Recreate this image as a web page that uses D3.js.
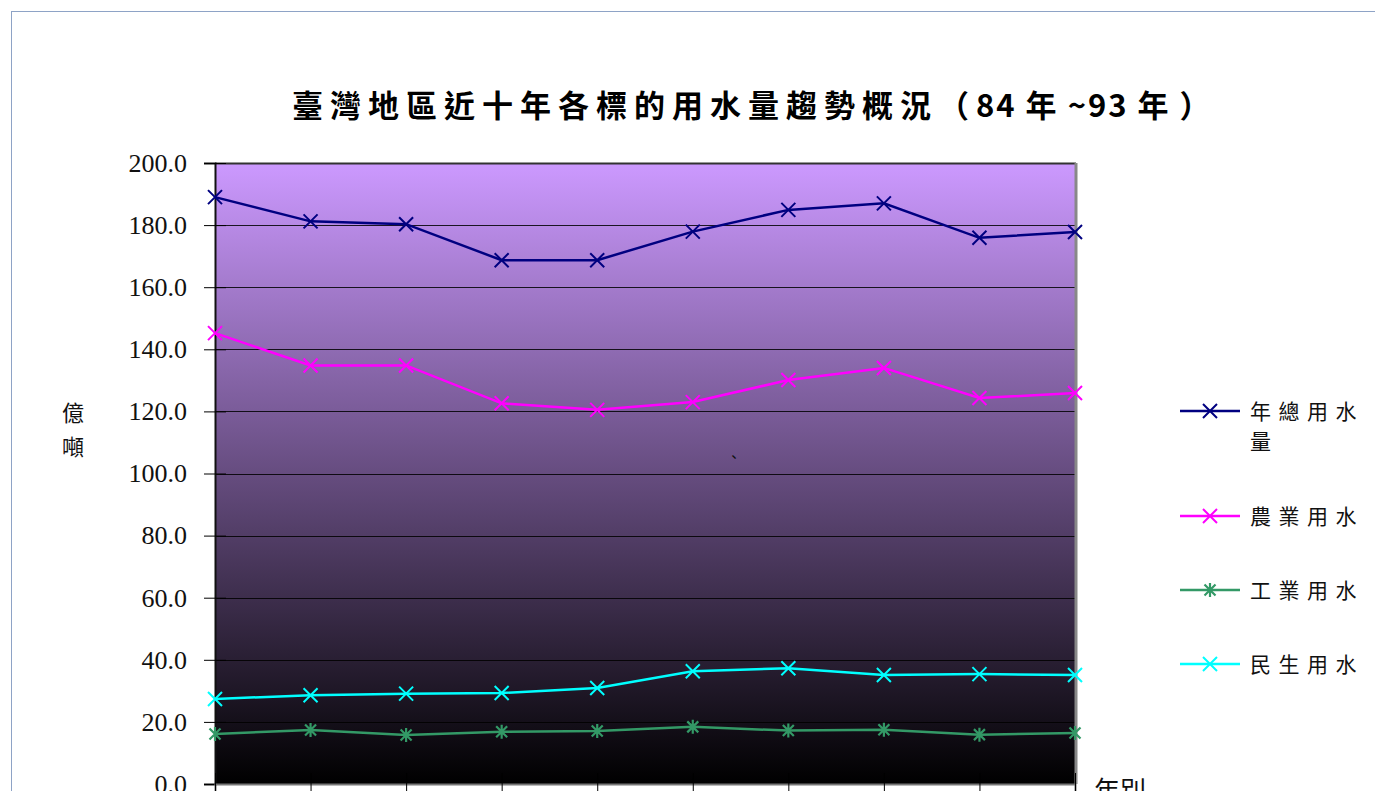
<!DOCTYPE html>
<html>
<head>
<meta charset="utf-8">
<script src="https://cdn.jsdelivr.net/npm/d3@7/dist/d3.min.js"></script>
<style>
  html, body { margin: 0; padding: 0; background: #fff; }
  svg { display: block; }
</style>
</head>
<body>
<svg id="chart" width="1375" height="791"></svg>
<script>
const years = ["84", "85", "86", "87", "88", "89", "90", "91", "92", "93"];
const totalUse = [189.0, 181.2, 180.3, 168.7, 168.7, 177.9, 184.9, 187.0, 175.9, 177.8];
const agriUse = [145.2, 134.8, 134.8, 122.6, 120.5, 123.0, 130.1, 134.0, 124.3, 125.9];
const industUse = [16.1, 17.4, 15.8, 16.8, 17.1, 18.4, 17.2, 17.5, 15.9, 16.4];
const domesticUse = [27.4, 28.6, 29.1, 29.3, 30.9, 36.3, 37.3, 35.1, 35.4, 35.1];
const yTicks = [0, 20, 40, 60, 80, 100, 120, 140, 160, 180, 200];
const seriesNames = ["年總用水量", "農業用水", "工業用水", "民生用水"];

const series = [
  { name: seriesNames[0], values: totalUse, color: "#000080", marker: "x" },
  { name: seriesNames[1], values: agriUse, color: "#ff00ff", marker: "x" },
  { name: seriesNames[2], values: industUse, color: "#339966", marker: "star" },
  { name: seriesNames[3], values: domesticUse, color: "#00ffff", marker: "x" }
];

const svg = d3.select("#chart");
const pLeft = 215, pRight = 1075, pTop = 163, pBottom = 784;

// outer frame
svg.append("rect").attr("x", 11.5).attr("y", 11.5).attr("width", 1400).attr("height", 900)
  .attr("fill", "none").attr("stroke", "#8ea3c6").attr("stroke-width", 1);

const x = d3.scalePoint().domain(years).range([pLeft, pRight]);
const y = d3.scaleLinear().domain([0, 200]).range([pBottom, pTop]);

// gradient
const defs = svg.append("defs");
const grad = defs.append("linearGradient").attr("id", "bg").attr("x1", 0).attr("y1", 0).attr("x2", 0).attr("y2", 1);
grad.append("stop").attr("offset", "0%").attr("stop-color", "#cc99ff");
grad.append("stop").attr("offset", "100%").attr("stop-color", "#000000");

svg.append("rect").attr("x", pLeft).attr("y", pTop).attr("width", pRight - pLeft).attr("height", pBottom - pTop)
  .attr("fill", "url(#bg)");

// gridlines
svg.append("g").selectAll("line").data(yTicks.filter(d => d > 0 && d < 200)).join("line")
  .attr("x1", pLeft).attr("x2", pRight)
  .attr("y1", d => Math.round(y(d)) + 0.5).attr("y2", d => Math.round(y(d)) + 0.5)
  .attr("stroke", "#000").attr("stroke-width", 1).attr("stroke-opacity", 0.85);

// plot border: top and right
svg.append("line").attr("x1", pLeft).attr("x2", pRight + 1).attr("y1", pTop + 0.5).attr("y2", pTop + 0.5)
  .attr("stroke", "#333").attr("stroke-width", 2);
svg.append("line").attr("x1", pRight + 1).attr("x2", pRight + 1).attr("y1", pTop).attr("y2", pBottom)
  .attr("stroke", "#888").attr("stroke-width", 3);

// y axis
const yAxis = d3.axisLeft(y).tickValues(yTicks).tickFormat(d3.format(".1f")).tickSize(11).tickPadding(17);
const gy = svg.append("g").attr("transform", `translate(${pLeft},0)`).call(yAxis);
gy.select(".domain").attr("stroke", "#111").attr("stroke-width", 2);
gy.selectAll(".tick line").attr("stroke", "#000").attr("x2", -11).attr("x1", 11);
gy.selectAll(".tick text").attr("font-family", "'Liberation Serif', 'Times New Roman', serif")
  .attr("font-size", 26).attr("fill", "#111");

// x axis (category labels fall below the visible area, as in the reference)
const xAxis = d3.axisBottom(x).tickSize(10).tickFormat("");
const gx = svg.append("g").attr("transform", `translate(0,${pBottom})`).call(xAxis);
gx.select(".domain").attr("stroke", "#777").attr("stroke-width", 2);
gx.selectAll(".tick line").attr("stroke", "#000").attr("y1", -11).attr("y2", 10);

// lines
const line = d3.line().x((d, i) => x(years[i])).y(d => y(d));
series.forEach(s => {
  svg.append("path").datum(s.values).attr("d", line)
    .attr("fill", "none").attr("stroke", s.color).attr("stroke-width", 2.5);
});

function drawMarker(g, cx, cy, type, color, r) {
  g.append("path")
    .attr("d", `M${cx - r},${cy - r}L${cx + r},${cy + r}M${cx - r},${cy + r}L${cx + r},${cy - r}` +
      (type === "star" ? `M${cx},${cy - r - 1.5}L${cx},${cy + r + 1.5}` : ""))
    .attr("stroke", color).attr("stroke-width", type === "star" ? 2.2 : 2).attr("fill", "none");
}
series.forEach(s => {
  const g = svg.append("g");
  s.values.forEach((v, i) => drawMarker(g, x(years[i]), y(v), s.marker, s.color, s.marker === "star" ? 5.5 : 7));
});

// stray mark
svg.append("text").attr("x", 727).attr("y", 462).attr("font-size", 14)
  .attr("font-family", "'Noto Sans CJK TC', sans-serif").attr("fill", "#111").text("、");

// title
const title = svg.append("text").attr("x", 292).attr("y", 117)
  .attr("font-family", "'Noto Sans CJK TC', sans-serif").attr("font-weight", "bold")
  .attr("font-size", 31).attr("fill", "#000");
title.append("tspan").attr("letter-spacing", 7).text("臺灣地區近十年各標的用水量趨勢概況（");
title.append("tspan").attr("letter-spacing", 2).text("84 年 ~93 年 ）");

// y label
svg.append("text").attr("x", 73).attr("y", 421).attr("text-anchor", "middle")
  .attr("font-family", "'Noto Sans CJK TC', sans-serif").attr("font-size", 22).attr("fill", "#111").text("億");
svg.append("text").attr("x", 73).attr("y", 455).attr("text-anchor", "middle")
  .attr("font-family", "'Noto Sans CJK TC', sans-serif").attr("font-size", 22).attr("fill", "#111").text("噸");

// x label
svg.append("text").attr("x", 1094).attr("y", 800)
  .attr("font-family", "'Noto Sans CJK TC', sans-serif").attr("font-size", 26).attr("fill", "#111").text("年別");

// legend
const legY = [411, 516, 590, 664];
series.forEach((s, i) => {
  const g = svg.append("g");
  g.append("line").attr("x1", 1180).attr("x2", 1240).attr("y1", legY[i]).attr("y2", legY[i])
    .attr("stroke", s.color).attr("stroke-width", 2.5);
  drawMarker(g, 1210, legY[i], s.marker, s.color, s.marker === "star" ? 5.5 : 7);
  const t = g.append("text").attr("x", 1250).attr("y", legY[i] + 8)
    .attr("font-family", "'Noto Sans CJK TC', sans-serif").attr("font-size", 21)
    .attr("letter-spacing", 7.5).attr("fill", "#111");
  if (s.name.length > 4) {
    t.append("tspan").attr("x", 1250).text(s.name.slice(0, 4));
    t.append("tspan").attr("x", 1250).attr("dy", 30).text(s.name.slice(4));
  } else {
    t.text(s.name);
  }
});
</script>
</body>
</html>
